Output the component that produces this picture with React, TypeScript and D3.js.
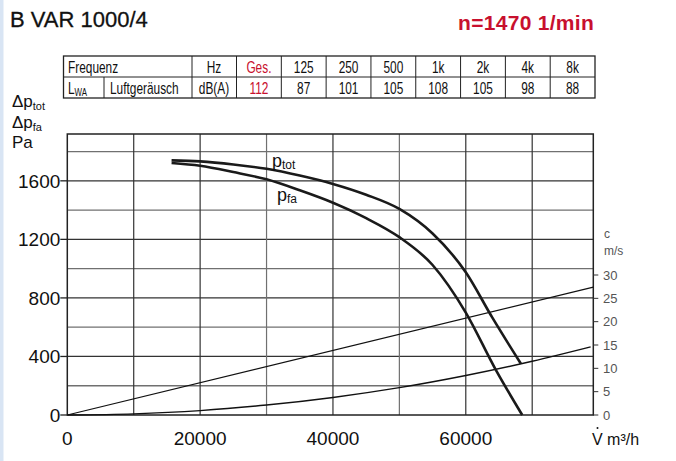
import * as d3 from "d3";

// Kennlinie B VAR 1000/4, n = 1470 1/min
const flowTicks = [0, 20000, 40000, 60000];
const flowGrid = [10000, 20000, 30000, 40000, 50000, 60000, 70000];
const pressureTicks = [0, 400, 800, 1200, 1600];
const pressureGrid = [200, 400, 600, 800, 1000, 1200, 1400, 1600, 1800];
const velocityTicks = [0, 5, 10, 15, 20, 25, 30];

const bandLabels = ["Ges.", "125", "250", "500", "1k", "2k", "4k", "8k"];
const soundLevels = [112, 87, 101, 105, 108, 105, 98, 88];

// fan curves [V m3/h, Pa]
const pTot: [number, number][] = [
  [15700, 1740], [20000, 1733], [25000, 1712], [30000, 1682], [35000, 1636],
  [40000, 1579], [45000, 1505], [50000, 1408], [55000, 1240], [60000, 975],
  [64000, 665], [68300, 350],
];
const pFa: [number, number][] = [
  [15700, 1722], [20000, 1703], [25000, 1660], [30000, 1610], [35000, 1535],
  [40000, 1450], [45000, 1345], [50000, 1215], [55000, 1025], [60000, 700],
  [64500, 310], [68500, 0],
];
// dynamic pressure [V, Pa]
const pDyn: [number, number][] = [
  [0, 0], [10000, 8], [20000, 30], [30000, 68], [40000, 120], [50000, 187],
  [60000, 270], [70000, 367], [78800, 465],
];
// outlet velocity [V, m/s]
const velocity: [number, number][] = [[0, 0], [79200, 27.4]];

const SANS = "'Liberation Sans', Arial, Helvetica, sans-serif";
const RED = "#c8102e";

// condensed look for the table (no narrow face installed)
const Narrow = ({ x, y, anchor = "start", fill = "#111", children }: any) => (
  <text
    transform={`translate(${x},${y}) scale(0.72,1)`}
    textAnchor={anchor}
    fill={fill}
  >
    {children}
  </text>
);

export default function App() {
  const x = d3.scaleLinear().domain([0, 79200]).range([67.3, 593.3]);
  const y = d3.scaleLinear().domain([0, 1920]).range([415, 134]);
  const yc = d3.scaleLinear().domain([0, 30]).range([415, 275]);
  const col = d3.scaleBand().domain(bandLabels).range([236.5, 595]);

  const pressureLine = d3
    .line<[number, number]>()
    .x((d) => x(d[0]))
    .y((d) => y(d[1]))
    .curve(d3.curveMonotoneX);
  const velocityLine = d3
    .line<[number, number]>()
    .x((d) => x(d[0]))
    .y((d) => yc(d[1]));

  const [x0, x1] = x.range();
  const [yb, yt] = y.range();
  const rowTop = 56, rowMid = 77, rowBot = 98;
  const tblLeft = 63.5, tblRight = 595;

  return (
    <svg
      width={676}
      height={461}
      style={{ position: "absolute", left: 0, top: 0, background: "#fff" }}
      fontFamily={SANS}
    >
      <rect x={0} y={0} width={3.5} height={461} fill="#d9e5f4" />

      <text x={10} y={27} fontSize={22} fill="#111" stroke="#111" strokeWidth={0.3}>B VAR 1000/4</text>
      <text x={458} y={30} fontSize={21} fontWeight="bold" fill={RED} letterSpacing={0.3}>n=1470 1/min</text>

      {/* sound table */}
      <g fontSize={16.5}>
        <rect x={tblLeft} y={rowTop} width={tblRight - tblLeft} height={rowBot - rowTop} fill="none" stroke="#222" strokeWidth={1.3} />
        <line x1={tblLeft} x2={tblRight} y1={rowMid} y2={rowMid} stroke="#222" strokeWidth={1} />
        <line x1={192} x2={192} y1={rowTop} y2={rowBot} stroke="#222" strokeWidth={1} />
        <line x1={104} x2={104} y1={rowMid} y2={rowBot} stroke="#222" strokeWidth={1} />
        {bandLabels.map((b) => (
          <line key={b} x1={col(b)!} x2={col(b)!} y1={rowTop} y2={rowBot} stroke="#222" strokeWidth={1} />
        ))}
        <Narrow x={68} y={72.5}>Frequenz</Narrow>
        <Narrow x={214} y={72.5} anchor="middle">Hz</Narrow>
        <Narrow x={68} y={93.5}>L<tspan fontSize={11} dy={2}>WA</tspan></Narrow>
        <Narrow x={110} y={93.5}>Luftgeräusch</Narrow>
        <Narrow x={214} y={93.5} anchor="middle">dB(A)</Narrow>
        {bandLabels.map((b, i) => (
          <g key={b}>
            <Narrow x={col(b)! + col.bandwidth() / 2} y={72.5} anchor="middle" fill={i === 0 ? RED : "#111"}>{b}</Narrow>
            <Narrow x={col(b)! + col.bandwidth() / 2} y={93.5} anchor="middle" fill={i === 0 ? RED : "#111"}>{soundLevels[i]}</Narrow>
          </g>
        ))}
      </g>

      {/* grid */}
      {pressureGrid.map((p) => (
        <line key={p} x1={x0} x2={x1} y1={y(p)} y2={y(p)}
          stroke={p % 400 === 0 ? "#333" : "#707070"} strokeWidth={p === 200 ? 1.6 : 1.2} />
      ))}
      {flowGrid.map((v) => (
        <line key={v} x1={x(v)} x2={x(v)} y1={yt} y2={yb}
          stroke={v === 30000 || v === 50000 ? "#707070" : "#333"} strokeWidth={1.2} />
      ))}
      <rect x={x0} y={yt} width={x1 - x0} height={yb - yt} fill="none" stroke="#222" strokeWidth={1.5} />

      {/* left axis */}
      {pressureTicks.map((p) => (
        <g key={p}>
          <line x1={x0 - 7} x2={x0} y1={y(p)} y2={y(p)} stroke="#222" strokeWidth={1.3} />
          <text x={x0 - 7} y={y(p) + 7} fontSize={19} textAnchor="end" fill="#111">{p}</text>
        </g>
      ))}
      <g fontSize={17} fill="#111">
        <text x={12} y={107}>Δp<tspan fontSize={11} dy={3}>tot</tspan></text>
        <text x={12} y={128}>Δp<tspan fontSize={11} dy={3}>fa</tspan></text>
        <text x={12} y={148}>Pa</text>
      </g>

      {/* bottom axis */}
      {flowTicks.map((v) => (
        <text key={v} x={x(v)} y={445} fontSize={19} textAnchor="middle" fill="#111">{v}</text>
      ))}
      <g fontSize={16} fill="#111">
        <text x={592} y={445}>V m³/h</text>
        <circle cx={597.5} cy={428} r={1} fill="#111" />
      </g>

      {/* right axis */}
      {velocityTicks.map((c) => (
        <g key={c}>
          <line x1={x1} x2={x1 + 5} y1={yc(c)} y2={yc(c)} stroke="#333" strokeWidth={1} />
          <text x={603} y={yc(c) + 4.5} fontSize={13} fill="#555">{c}</text>
        </g>
      ))}
      <text x={604} y={238} fontSize={12} fill="#555">c</text>
      <text x={604} y={255} fontSize={12} fill="#555">m/s</text>

      {/* curves */}
      <path d={velocityLine(velocity)!} fill="none" stroke="#111" strokeWidth={1.2} />
      <path d={pressureLine(pDyn)!} fill="none" stroke="#111" strokeWidth={1.4} />
      <path d={pressureLine(pTot)!} fill="none" stroke="#1a1a1a" strokeWidth={2.6} />
      <path d={pressureLine(pFa)!} fill="none" stroke="#1a1a1a" strokeWidth={2.6} />

      <g fill="#111">
        <text x={272} y={167} fontSize={18}>p<tspan fontSize={12} dy={2}>tot</tspan></text>
        <text x={277} y={201} fontSize={18}>p<tspan fontSize={12} dy={2}>fa</tspan></text>
      </g>
    </svg>
  );
}
